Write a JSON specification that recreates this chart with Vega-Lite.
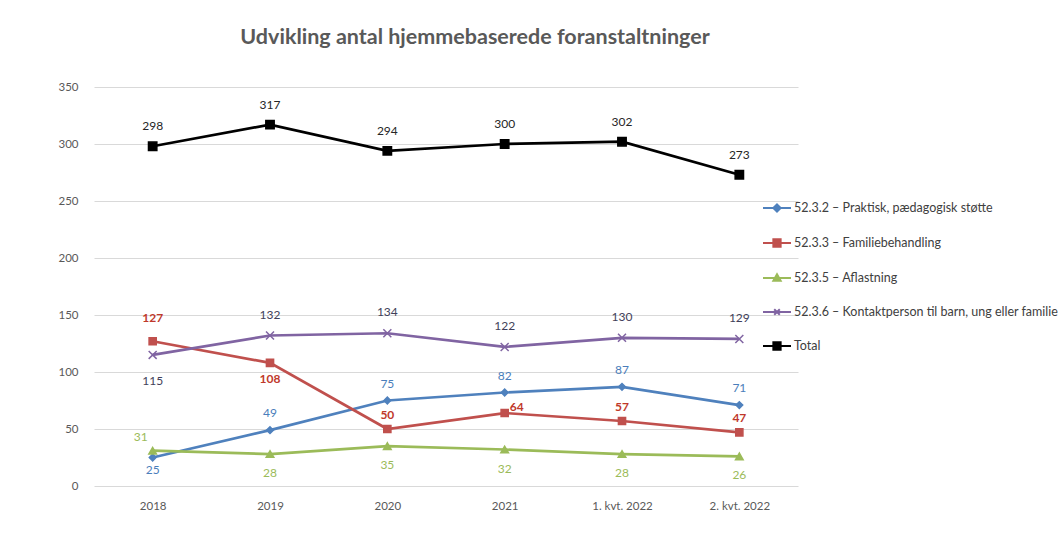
{
  "$schema": "https://vega.github.io/schema/vega-lite/v6.json",
  "width": 704,
  "height": 399,
  "autosize": "none",
  "padding": {"left": 94, "top": 87, "right": 262, "bottom": 51},
  "background": "white",
  "config": {
    "font": "Lato",
    "view": {"stroke": null},
    "text": {"font": "Lato", "fontSize": 12}
  },
  "title": {
    "text": "Udvikling antal hjemmebaserede foranstaltninger",
    "fontSize": 21.5,
    "fontWeight": "bold",
    "color": "#595959",
    "font": "Lato",
    "anchor": "middle",
    "frame": "group",
    "dx": 29,
    "offset": 33
  },
  "data": {
    "values": [
      {"cat": "2018", "series": "52.3.2 – Praktisk, pædagogisk støtte", "value": 25},
      {"cat": "2019", "series": "52.3.2 – Praktisk, pædagogisk støtte", "value": 49},
      {"cat": "2020", "series": "52.3.2 – Praktisk, pædagogisk støtte", "value": 75},
      {"cat": "2021", "series": "52.3.2 – Praktisk, pædagogisk støtte", "value": 82},
      {"cat": "1. kvt. 2022", "series": "52.3.2 – Praktisk, pædagogisk støtte", "value": 87},
      {"cat": "2. kvt. 2022", "series": "52.3.2 – Praktisk, pædagogisk støtte", "value": 71},
      {"cat": "2018", "series": "52.3.3 – Familiebehandling", "value": 127},
      {"cat": "2019", "series": "52.3.3 – Familiebehandling", "value": 108},
      {"cat": "2020", "series": "52.3.3 – Familiebehandling", "value": 50},
      {"cat": "2021", "series": "52.3.3 – Familiebehandling", "value": 64},
      {"cat": "1. kvt. 2022", "series": "52.3.3 – Familiebehandling", "value": 57},
      {"cat": "2. kvt. 2022", "series": "52.3.3 – Familiebehandling", "value": 47},
      {"cat": "2018", "series": "52.3.5 – Aflastning", "value": 31},
      {"cat": "2019", "series": "52.3.5 – Aflastning", "value": 28},
      {"cat": "2020", "series": "52.3.5 – Aflastning", "value": 35},
      {"cat": "2021", "series": "52.3.5 – Aflastning", "value": 32},
      {"cat": "1. kvt. 2022", "series": "52.3.5 – Aflastning", "value": 28},
      {"cat": "2. kvt. 2022", "series": "52.3.5 – Aflastning", "value": 26},
      {"cat": "2018", "series": "52.3.6 – Kontaktperson til barn, ung eller familie", "value": 115},
      {"cat": "2019", "series": "52.3.6 – Kontaktperson til barn, ung eller familie", "value": 132},
      {"cat": "2020", "series": "52.3.6 – Kontaktperson til barn, ung eller familie", "value": 134},
      {"cat": "2021", "series": "52.3.6 – Kontaktperson til barn, ung eller familie", "value": 122},
      {"cat": "1. kvt. 2022", "series": "52.3.6 – Kontaktperson til barn, ung eller familie", "value": 130},
      {"cat": "2. kvt. 2022", "series": "52.3.6 – Kontaktperson til barn, ung eller familie", "value": 129},
      {"cat": "2018", "series": "Total", "value": 298},
      {"cat": "2019", "series": "Total", "value": 317},
      {"cat": "2020", "series": "Total", "value": 294},
      {"cat": "2021", "series": "Total", "value": 300},
      {"cat": "1. kvt. 2022", "series": "Total", "value": 302},
      {"cat": "2. kvt. 2022", "series": "Total", "value": 273}
    ]
  },
  "encoding": {
    "x": {
      "field": "cat",
      "type": "ordinal",
      "sort": null,
      "scale": {"type": "point", "padding": 0.5},
      "axis": {
        "title": null,
        "labelAngle": 0,
        "labelFontSize": 11.5,
        "labelColor": "#595959",
        "labelPadding": 14,
        "ticks": false,
        "domain": false,
        "grid": false
      }
    },
    "y": {
      "field": "value",
      "type": "quantitative",
      "scale": {"domain": [0, 350], "nice": false},
      "axis": {
        "title": null,
        "values": [0, 50, 100, 150, 200, 250, 300, 350],
        "labelFontSize": 11.5,
        "labelColor": "#595959",
        "labelPadding": 16,
        "ticks": false,
        "domain": false,
        "gridColor": "#d9d9d9",
        "gridWidth": 1
      }
    }
  },
  "layer": [
    {
      "mark": {"type": "line", "strokeWidth": 2.7},
      "encoding": {
        "color": {
          "field": "series",
          "type": "nominal",
          "sort": null,
          "scale": {
            "domain": ["52.3.2 – Praktisk, pædagogisk støtte", "52.3.3 – Familiebehandling", "52.3.5 – Aflastning", "52.3.6 – Kontaktperson til barn, ung eller familie", "Total"],
            "range": ["#4f81bd", "#c0504d", "#9bbb59", "#8064a2", "#000000"]
          },
          "legend": {
            "title": null,
            "orient": "none",
            "legendX": 668,
            "legendY": 106,
            "padding": 0,
            "symbolSize": 784,
            "symbolStrokeWidth": 2,
            "rowPadding": 12,
            "labelFontSize": 12.5,
            "labelColor": "#404040",
            "labelOffset": 2,
            "labelLimit": 400,
            "encode": {
              "symbols": {
                "update": {
                  "shape": {"signal": "indexof(datum.value,'52.3.2')===0 ? 'M-1,0H1M0,-0.26L0.26,0L0,0.26L-0.26,0Z' : indexof(datum.value,'52.3.3')===0 ? 'M-1,0H1M-0.26,-0.26H0.26V0.26H-0.26Z' : indexof(datum.value,'52.3.5')===0 ? 'M-1,0H1M0,-0.26L0.26,0.2H-0.26Z' : indexof(datum.value,'52.3.6')===0 ? 'M-1,0H1M-0.2,-0.2L0.2,0.2M-0.2,0.2L0.2,-0.2' : 'M-1,0H1M-0.26,-0.26H0.26V0.26H-0.26Z'"},
                  "fill": {"signal": "indexof(datum.value,'52.3.2')===0 ? '#4f81bd' : indexof(datum.value,'52.3.3')===0 ? '#c0504d' : indexof(datum.value,'52.3.5')===0 ? '#9bbb59' : indexof(datum.value,'52.3.6')===0 ? '#8064a2' : '#000000'"},
                  "strokeWidth": {"value": 2}
                }
              }
            }
          }
        }
      }
    },
    {
      "mark": {"type": "point", "strokeWidth": 1.5, "opacity": 1},
      "encoding": {
        "shape": {
          "field": "series",
          "type": "nominal",
          "sort": null,
          "scale": {
            "domain": ["52.3.2 – Praktisk, pædagogisk støtte", "52.3.3 – Familiebehandling", "52.3.5 – Aflastning", "52.3.6 – Kontaktperson til barn, ung eller familie", "Total"],
            "range": ["diamond", "square", "triangle-up", "M-1,-1L1,1M-1,1L1,-1", "square"]
          },
          "legend": null
        },
        "size": {
          "field": "series",
          "type": "nominal",
          "sort": null,
          "scale": {
            "domain": ["52.3.2 – Praktisk, pædagogisk støtte", "52.3.3 – Familiebehandling", "52.3.5 – Aflastning", "52.3.6 – Kontaktperson til barn, ung eller familie", "Total"],
            "range": [45, 70, 60, 40, 70]
          },
          "legend": null
        },
        "fill": {
          "field": "series",
          "type": "nominal",
          "sort": null,
          "scale": {
            "domain": ["52.3.2 – Praktisk, pædagogisk støtte", "52.3.3 – Familiebehandling", "52.3.5 – Aflastning", "52.3.6 – Kontaktperson til barn, ung eller familie", "Total"],
            "range": ["#4f81bd", "#c0504d", "#9bbb59", "#8064a2", "#000000"]
          },
          "legend": null
        },
        "stroke": {
          "field": "series",
          "type": "nominal",
          "sort": null,
          "scale": {
            "domain": ["52.3.2 – Praktisk, pædagogisk støtte", "52.3.3 – Familiebehandling", "52.3.5 – Aflastning", "52.3.6 – Kontaktperson til barn, ung eller familie", "Total"],
            "range": ["#4f81bd", "#c0504d", "#9bbb59", "#8064a2", "#000000"]
          },
          "legend": null
        }
      }
    },
    {
      "transform": [{"filter": "datum.series == 'Total'"}],
      "mark": {"type": "text", "dy": -20, "color": "#262626"},
      "encoding": {"text": {"field": "value", "type": "quantitative"}}
    },
    {
      "transform": [{"filter": "indexof(datum.series,'52.3.6')===0 && datum.cat != '2018'"}],
      "mark": {"type": "text", "dy": -21, "color": "#3f3f5a"},
      "encoding": {"text": {"field": "value", "type": "quantitative"}}
    },
    {
      "transform": [{"filter": "indexof(datum.series,'52.3.6')===0 && datum.cat == '2018'"}],
      "mark": {"type": "text", "dy": 26, "color": "#3f3f5a"},
      "encoding": {"text": {"field": "value", "type": "quantitative"}}
    },
    {
      "transform": [{"filter": "indexof(datum.series,'52.3.2')===0 && datum.cat != '2018'"}],
      "mark": {"type": "text", "dy": -17, "color": "#4a7ebb"},
      "encoding": {"text": {"field": "value", "type": "quantitative"}}
    },
    {
      "transform": [{"filter": "indexof(datum.series,'52.3.2')===0 && datum.cat == '2018'"}],
      "mark": {"type": "text", "dy": 12, "color": "#4a7ebb"},
      "encoding": {"text": {"field": "value", "type": "quantitative"}}
    },
    {
      "transform": [{"filter": "indexof(datum.series,'52.3.3')===0 && datum.cat == '2018'"}],
      "mark": {"type": "text", "dy": -23, "color": "#c0392b", "fontWeight": "bold"},
      "encoding": {"text": {"field": "value", "type": "quantitative"}}
    },
    {
      "transform": [{"filter": "indexof(datum.series,'52.3.3')===0 && (datum.cat == '2020' || datum.cat == '1. kvt. 2022' || datum.cat == '2. kvt. 2022')"}],
      "mark": {"type": "text", "dy": -14, "color": "#c0392b", "fontWeight": "bold"},
      "encoding": {"text": {"field": "value", "type": "quantitative"}}
    },
    {
      "transform": [{"filter": "indexof(datum.series,'52.3.3')===0 && datum.cat == '2019'"}],
      "mark": {"type": "text", "dy": 16, "color": "#c0392b", "fontWeight": "bold"},
      "encoding": {"text": {"field": "value", "type": "quantitative"}}
    },
    {
      "transform": [{"filter": "indexof(datum.series,'52.3.3')===0 && datum.cat == '2021'"}],
      "mark": {"type": "text", "dx": 12, "dy": -6, "color": "#c0392b", "fontWeight": "bold"},
      "encoding": {"text": {"field": "value", "type": "quantitative"}}
    },
    {
      "transform": [{"filter": "indexof(datum.series,'52.3.5')===0 && datum.cat != '2018'"}],
      "mark": {"type": "text", "dy": 19, "color": "#9bbb59"},
      "encoding": {"text": {"field": "value", "type": "quantitative"}}
    },
    {
      "transform": [{"filter": "indexof(datum.series,'52.3.5')===0 && datum.cat == '2018'"}],
      "mark": {"type": "text", "dx": -12, "dy": -14, "color": "#9bbb59"},
      "encoding": {"text": {"field": "value", "type": "quantitative"}}
    }
  ],
  "resolve": {"scale": {"color": "independent"}}
}
